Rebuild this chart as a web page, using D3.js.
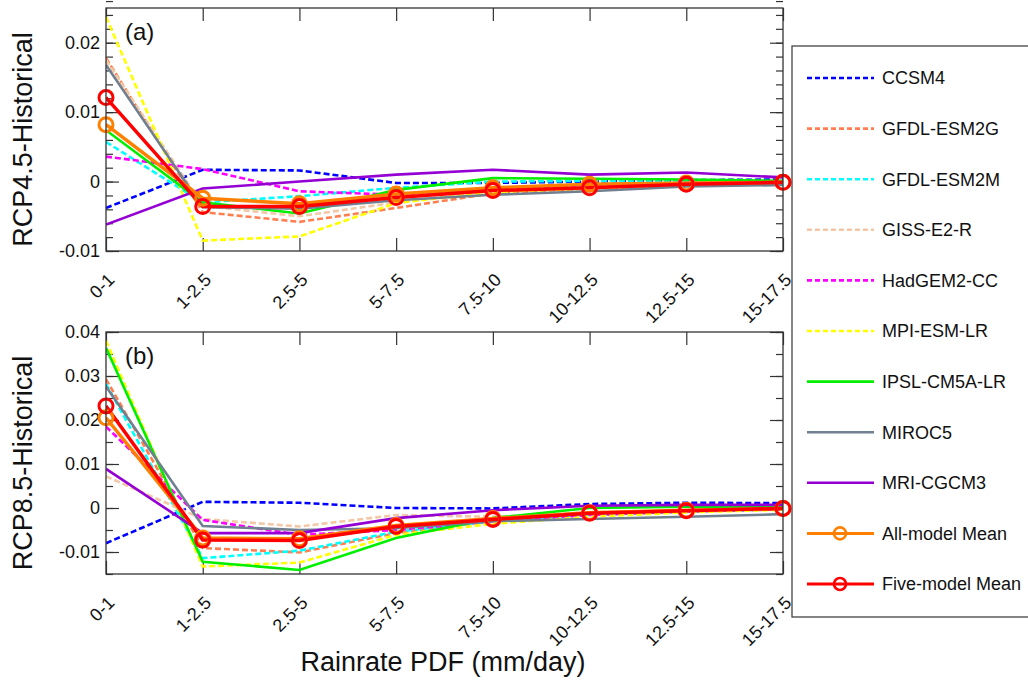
<!DOCTYPE html>
<html>
<head>
<meta charset="utf-8">
<script src="https://cdn.jsdelivr.net/npm/d3@7"></script>
<style>
  body { margin: 0; background: #fff; }
  svg text { font-family: "Liberation Sans", Arial, sans-serif; fill: #111; }
</style>
</head>
<body>
<svg id="chart" width="1028" height="681"></svg>
<script>
// rain rate bins
var bins = ["0-1", "1-2.5", "2.5-5", "5-7.5", "7.5-10", "10-12.5", "12.5-15", "15-17.5"];

var modelNames = ["CCSM4", "GFDL-ESM2G", "GFDL-ESM2M", "GISS-E2-R", "HadGEM2-CC", "MPI-ESM-LR",
                  "IPSL-CM5A-LR", "MIROC5", "MRI-CGCM3", "All-model Mean", "Five-model Mean"];

// RCP4.5 - Historical
var ccsm4_45   = [-0.0038, 0.0017, 0.0016, -0.0002, -0.0002, 0.0000, 0.0002, 0.0003];
var esm2g_45   = [0.0178, -0.0044, -0.0058, -0.0038, -0.0017, -0.0010, -0.0005, -0.0002];
var esm2m_45   = [0.0057, -0.0030, -0.0021, -0.0009, 0.0000, 0.0001, 0.0001, 0.0000];
var giss_45    = [0.0175, -0.0035, -0.0050, -0.0030, -0.0014, -0.0009, -0.0004, -0.0002];
var hadgem_45  = [0.0036, 0.0018, -0.0014, -0.0019, -0.0010, -0.0006, -0.0003, -0.0001];
var mpi_45     = [0.0237, -0.0085, -0.0079, -0.0031, -0.0015, -0.0010, -0.0005, -0.0002];
var ipsl_45    = [0.0074, -0.0030, -0.0046, -0.0012, 0.0005, 0.0004, 0.0003, 0.0001];
var miroc_45   = [0.0168, -0.0037, -0.0039, -0.0027, -0.0019, -0.0014, -0.0007, -0.0005];
var mri_45     = [-0.0062, -0.0010, 0.0000, 0.0010, 0.0017, 0.0010, 0.0013, 0.0006];
var allmean_45 = [0.0082, -0.0024, -0.0032, -0.0018, -0.0009, -0.0004, -0.0002, -0.0001];
var fivemean_45= [0.0121, -0.0036, -0.0036, -0.0023, -0.0013, -0.0009, -0.0004, -0.0001];

// RCP8.5 - Historical
var ccsm4_85   = [-0.0080, 0.0014, 0.0012, 0.0000, -0.0001, 0.0009, 0.0012, 0.0011];
var esm2g_85   = [0.0293, -0.0091, -0.0101, -0.0057, -0.0030, -0.0016, -0.0008, -0.0003];
var esm2m_85   = [0.0282, -0.0114, -0.0097, -0.0054, -0.0030, -0.0015, -0.0008, -0.0003];
var giss_85    = [0.0072, -0.0025, -0.0042, -0.0016, -0.0020, -0.0010, -0.0005, -0.0002];
var hadgem_85  = [0.0185, -0.0027, -0.0061, -0.0050, -0.0030, -0.0016, -0.0008, -0.0003];
var mpi_85     = [0.0380, -0.0133, -0.0124, -0.0061, -0.0036, -0.0020, -0.0010, -0.0004];
var ipsl_85    = [0.0364, -0.0122, -0.0141, -0.0068, -0.0023, 0.0000, 0.0003, 0.0003];
var miroc_85   = [0.0276, -0.0041, -0.0050, -0.0046, -0.0030, -0.0025, -0.0020, -0.0014];
var mri_85     = [0.0089, -0.0057, -0.0057, -0.0023, -0.0005, 0.0005, 0.0007, 0.0007];
var allmean_85 = [0.0205, -0.0068, -0.0070, -0.0040, -0.0024, -0.0011, -0.0005, -0.0001];
var fivemean_85= [0.0232, -0.0073, -0.0074, -0.0042, -0.0026, -0.0012, -0.0006, -0.0001];

var colors = ["#0000ff", "#ff7f50", "#00ffff", "#f2c8a6", "#ff00ff", "#ffff00",
              "#00ee00", "#708090", "#9400d3", "#ff8000", "#ff0000"];
var dashed = [true, true, true, true, true, true, false, false, false, false, false];

var yTicksA = [-0.01, 0, 0.01, 0.02];
var yTicksB = [-0.01, 0, 0.01, 0.02, 0.03, 0.04];

var svg = d3.select("#chart");

var x = d3.scalePoint().domain(bins).range([106, 783]).padding(0);

function fmt(v) { return v === 0 ? "0" : String(+v.toFixed(2)); }

function panel(top, bottom, domain, majors, minorStep, series, tag, title, clipId) {
  var y = d3.scaleLinear().domain(domain).range([bottom, top]);
  var g = svg.append("g");

  svg.append("clipPath").attr("id", clipId).append("rect")
    .attr("x", 106).attr("y", top).attr("width", 677).attr("height", bottom - top);

  var minors = d3.range(Math.round(domain[0] / minorStep), Math.round(domain[1] / minorStep) + 1)
    .map(function(k) { return +(k * minorStep).toFixed(4); });

  // left axis: minor + major ticks, labels
  g.append("g").attr("transform", "translate(106,0)")
    .call(d3.axisLeft(y).tickValues(minors).tickSize(-7).tickFormat(""))
    .call(function(s) { s.select(".domain").remove(); });
  g.append("g").attr("transform", "translate(106,0)")
    .call(d3.axisLeft(y).tickValues(majors).tickSize(-13).tickPadding(6).tickFormat(fmt))
    .call(function(s) { s.select(".domain").remove(); s.selectAll("text").style("font-size", "18px"); });
  // right axis
  g.append("g").attr("transform", "translate(783,0)")
    .call(d3.axisRight(y).tickValues(minors).tickSize(-7).tickFormat(""))
    .call(function(s) { s.select(".domain").remove(); });
  g.append("g").attr("transform", "translate(783,0)")
    .call(d3.axisRight(y).tickValues(majors).tickSize(-13).tickFormat(""))
    .call(function(s) { s.select(".domain").remove(); });
  // top / bottom
  g.append("g").attr("transform", "translate(0," + top + ")")
    .call(d3.axisTop(x).tickSize(-13).tickFormat(""))
    .call(function(s) { s.select(".domain").remove(); });
  g.append("g").attr("transform", "translate(0," + bottom + ")")
    .call(d3.axisBottom(x).tickSize(-13))
    .call(function(s) {
      s.select(".domain").remove();
      s.selectAll("text")
        .attr("x", 0).attr("y", 0).attr("dy", null)
        .attr("text-anchor", "end")
        .attr("transform", "translate(9,30) rotate(-45)")
        .style("font-size", "18px");
    });
  g.selectAll(".tick line").attr("stroke", "#333").attr("stroke-width", 1.2);

  var line = d3.line().x(function(d, i) { return x(bins[i]); }).y(function(d) { return y(d); });

  var lines = g.append("g").attr("clip-path", "url(#" + clipId + ")");
  series.forEach(function(vals, k) {
    var isMean = k >= 9;
    lines.append("path")
      .attr("d", line(vals))
      .attr("fill", "none")
      .attr("stroke", colors[k])
      .attr("stroke-width", isMean ? 3.5 : 2.6)
      .attr("stroke-dasharray", dashed[k] ? "6,3" : null);
    if (isMean) {
      g.selectAll(null).data(vals).enter().append("circle")
        .attr("cx", function(d, i) { return x(bins[i]); })
        .attr("cy", function(d) { return y(d); })
        .attr("r", 7)
        .attr("fill", "none")
        .attr("stroke", colors[k])
        .attr("stroke-width", 3);
    }
  });

  g.append("rect").attr("x", 106).attr("y", top).attr("width", 677).attr("height", bottom - top)
    .attr("fill", "none").attr("stroke", "#333").attr("stroke-width", 1.3);

  g.append("text").attr("x", 125).attr("y", top + 32).style("font-size", "24px").text(tag);

  g.append("text")
    .attr("transform", "translate(32," + ((top + bottom) / 2 + 10) + ") rotate(-90)")
    .attr("text-anchor", "middle")
    .style("font-size", "27px")
    .text(title);
}

panel(8, 251, [-0.01, 0.025], yTicksA, 0.002,
  [ccsm4_45, esm2g_45, esm2m_45, giss_45, hadgem_45, mpi_45, ipsl_45, miroc_45, mri_45, allmean_45, fivemean_45],
  "(a)", "RCP4.5-Historical", "clipA");

panel(332, 574, [-0.015, 0.04], yTicksB, 0.005,
  [ccsm4_85, esm2g_85, esm2m_85, giss_85, hadgem_85, mpi_85, ipsl_85, miroc_85, mri_85, allmean_85, fivemean_85],
  "(b)", "RCP8.5-Historical", "clipB");

svg.append("text").attr("x", 443).attr("y", 671).attr("text-anchor", "middle")
  .style("font-size", "27px").text("Rainrate PDF (mm/day)");

// legend
var leg = svg.append("g");
leg.append("rect").attr("x", 792).attr("y", 46).attr("width", 240).attr("height", 571)
  .attr("fill", "#fff").attr("stroke", "#444").attr("stroke-width", 1.3);

var ly = d3.scaleLinear().domain([0, modelNames.length - 1]).range([78, 584]);
modelNames.forEach(function(name, k) {
  var yy = ly(k);
  leg.append("line").attr("x1", 807).attr("x2", 874).attr("y1", yy).attr("y2", yy)
    .attr("stroke", colors[k]).attr("stroke-width", k >= 9 ? 3 : 2.6)
    .attr("stroke-dasharray", dashed[k] ? "5,3" : null);
  if (k >= 9) {
    leg.append("circle").attr("cx", 840).attr("cy", yy).attr("r", 6)
      .attr("fill", "none").attr("stroke", colors[k]).attr("stroke-width", 2.6);
  }
  leg.append("text").attr("x", 882).attr("y", yy).attr("dy", "0.36em")
    .style("font-size", "18px").text(name);
});
</script>
</body>
</html>
